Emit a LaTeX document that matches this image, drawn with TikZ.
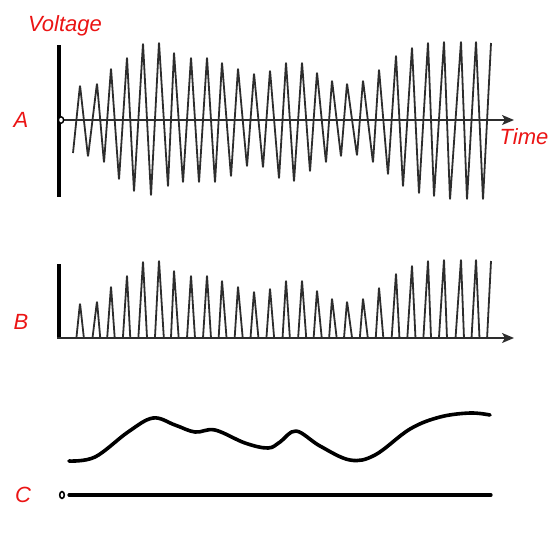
\documentclass[tikz,border=0pt]{standalone}
\usepackage{fontspec}
\setmainfont{Liberation Sans}
\usetikzlibrary{arrows.meta}
\definecolor{lblred}{RGB}{235,20,20}
\definecolor{ink}{RGB}{45,45,45}
\tikzset{
  lbl/.style={text=lblred, font=\fontsize{22}{25}\selectfont\itshape, inner sep=0pt},
  wave/.style={draw=ink, line width=1.8pt, rounded corners=2pt, line join=round},
  axisline/.style={draw=ink, line width=1.5pt, -{Stealth[length=12pt,width=10pt,inset=3pt]}},
  vbar/.style={draw=black, line width=4pt},
  env/.style={draw=black, line width=3.6pt, line cap=round, line join=round},
}
\begin{document}
\begin{tikzpicture}[x=1pt,y=-1pt]
\useasboundingbox (0,0) rectangle (553,539);
% ---------- Panel A ----------
\draw[vbar] (59,45) -- (59,197);
\draw[wave] (73,153) -- (80,85) -- (88,157) -- (97,83) -- (104,163) -- (111,68) -- (119,180) -- (127,57) -- (134,192) -- (143,43) -- (151,196) -- (159,42) -- (168,187) -- (174,52) -- (183,183) -- (191,57) -- (199,183) -- (207,57) -- (215,183) -- (222,62) -- (231,177) -- (238,68) -- (247,167) -- (254,73) -- (263,168) -- (270,70) -- (279,179) -- (286,62) -- (294,182) -- (302,62) -- (310,172) -- (317,72) -- (326,163) -- (332,80) -- (341,157) -- (347,83) -- (357,156) -- (363,80) -- (373,163) -- (379,69) -- (388,175) -- (396,55) -- (403,187) -- (412,47) -- (419,194) -- (428,42) -- (434,197) -- (444,41) -- (450,200) -- (461,41) -- (467,200) -- (476,41) -- (483,200) -- (491,43);
\coordinate (a0) at (59,120);
\coordinate (a1) at (514,120);
\draw[axisline] (a0) -- (a1);
\draw[black, line width=1.4pt, fill=white] (61,120) ellipse [x radius=2.6pt, y radius=3.3pt];
\node[lbl] (voltage) at (65,26) {Voltage};
\node[lbl] (time) at (524,137) {Time};
\node[lbl] (labA) at (21,120) {A};
% ---------- Panel B ----------
\begin{scope}
\clip (62,240) rectangle (500,338);
\draw[wave, yshift=-218pt] (73,153) -- (80,85) -- (88,157) -- (97,83) -- (104,163) -- (111,68) -- (119,180) -- (127,57) -- (134,192) -- (143,43) -- (151,196) -- (159,42) -- (168,187) -- (174,52) -- (183,183) -- (191,57) -- (199,183) -- (207,57) -- (215,183) -- (222,62) -- (231,177) -- (238,68) -- (247,167) -- (254,73) -- (263,168) -- (270,70) -- (279,179) -- (286,62) -- (294,182) -- (302,62) -- (310,172) -- (317,72) -- (326,163) -- (332,80) -- (341,157) -- (347,83) -- (357,156) -- (363,80) -- (373,163) -- (379,69) -- (388,175) -- (396,55) -- (403,187) -- (412,47) -- (419,194) -- (428,42) -- (434,197) -- (444,41) -- (450,200) -- (461,41) -- (467,200) -- (476,41) -- (483,200) -- (491,43);
\end{scope}
\draw[vbar] (59,264) -- (59,339);
\coordinate (b0) at (57,338);
\coordinate (b1) at (514,338);
\draw[axisline] (b0) -- (b1);
\node[lbl] (labB) at (21,322) {B};
% ---------- Panel C ----------
\draw[env] plot[smooth, tension=0.6] coordinates {(69,461) (95,457) (128,432) (153,418) (175,425) (195,432) (215,430) (245,443) (268,448) (280,442) (296,431) (320,446) (350,460) (375,455) (410,429) (440,417) (470,413) (490,415)};
\coordinate (c0) at (69,495);
\coordinate (c1) at (491,495);
\draw[black, line width=3.2pt, line cap=round] (c0) -- (c1);
\draw[black, line width=1.6pt] (62,495) ellipse [x radius=2.3pt, y radius=3.4pt];
\node[lbl] (labC) at (23,495) {C};
\end{tikzpicture}
\end{document}
